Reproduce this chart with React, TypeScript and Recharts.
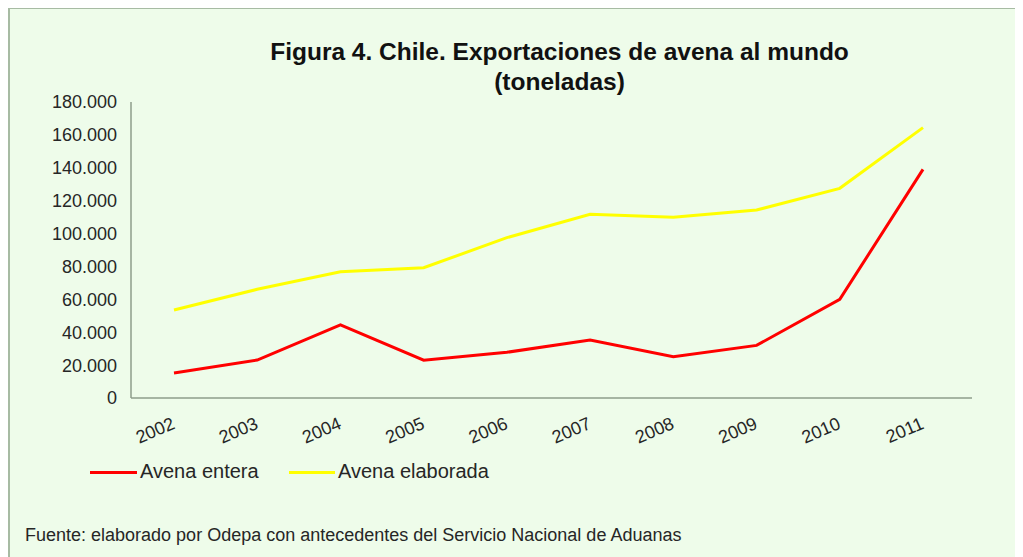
import React from 'react';
import { LineChart, Line, XAxis, YAxis } from 'recharts';

const years = ['2002', '2003', '2004', '2005', '2006', '2007', '2008', '2009', '2010', '2011'];
const avenaEntera = [15200, 23100, 44400, 23000, 27800, 35300, 25100, 32000, 60000, 139000];
const avenaElaborada = [53500, 66100, 76800, 79200, 97500, 111700, 109900, 114300, 127500, 164400];
const yTicks = [0, 20000, 40000, 60000, 80000, 100000, 120000, 140000, 160000, 180000];
const seriesNames = ['Avena entera', 'Avena elaborada'];
const seriesColors = ['#FF0000', '#FFFF00'];
const titleLines = ['Figura 4. Chile. Exportaciones de avena al mundo', '(toneladas)'];
const sourceText = 'Fuente: elaborado por Odepa con antecedentes del Servicio Nacional de Aduanas';

const data = years.map((y, i) => ({ year: y, entera: avenaEntera[i], elaborada: avenaElaborada[i] }));

const fmt = (v: number) => (v === 0 ? '0' : String(v).replace(/\B(?=(\d{3})+(?!\d))/g, '.'));

const FONT = '"Liberation Sans", Arial, sans-serif';
const TEXT = '#262626';

const XTick = (props: any) => {
  const { x, y, payload } = props;
  return (
    <g transform={`translate(${x + 2},${y + 22})`}>
      <text x={0} y={0} textAnchor="end" transform="rotate(-23)" fontSize={18} fontFamily={FONT} fill={TEXT}>
        {payload.value}
      </text>
    </g>
  );
};

export default function App() {
  return (
    <div style={{ position: 'relative', width: 1015, height: 550, marginTop: -1, background: '#EEFCEA', overflow: 'hidden' }}>
      <div style={{ position: 'absolute', left: 0, top: 0, width: 2, height: 550, background: '#A7BBA3' }} />
      <div style={{ position: 'absolute', left: 0, top: 0, width: 1015, height: 2, background: '#A7BBA3' }} />
      <div
        style={{
          position: 'absolute',
          left: 251.5,
          top: 30,
          width: 600,
          textAlign: 'center',
          fontFamily: '"Liberation Sans Narrow", "Arial Narrow", "Liberation Sans", sans-serif',
          fontWeight: 'bold',
          fontSize: 24.5,
          lineHeight: '30px',
          color: '#111',
        }}
      >
        {titleLines.map((t) => (
          <div key={t}>{t}</div>
        ))}
      </div>
      <div style={{ position: 'absolute', left: 0, top: 0 }}>
        <LineChart width={1015} height={549} data={data} margin={{ top: 95, right: 51, left: 43, bottom: 98 }}>
          <XAxis
            dataKey="year"
            height={60}
            padding={{ left: 43, right: 49 }}
            tickLine={false}
            axisLine={{ stroke: '#8E9E8B', strokeWidth: 1.5 }}
            tick={<XTick />}
            interval={0}
          />
          <YAxis
            width={80}
            domain={[0, 180000]}
            ticks={yTicks}
            tickFormatter={fmt}
            tickLine={false}
            tickSize={6}
            tickMargin={8}
            axisLine={{ stroke: '#8E9E8B', strokeWidth: 1.5 }}
            tick={{ fontSize: 18, fontFamily: FONT, fill: TEXT }}
            interval={0}
          />
          <Line type="linear" dataKey="entera" name={seriesNames[0]} stroke={seriesColors[0]} strokeWidth={3} dot={false} isAnimationActive={false} />
          <Line type="linear" dataKey="elaborada" name={seriesNames[1]} stroke={seriesColors[1]} strokeWidth={3} dot={false} isAnimationActive={false} />
        </LineChart>
      </div>
      {/* legend */}
      <div style={{ position: 'absolute', left: 82, top: 464, width: 47, height: 3, background: seriesColors[0] }} />
      <div style={{ position: 'absolute', left: 132, top: 454, fontFamily: FONT, fontSize: 20, lineHeight: '20px', color: TEXT, whiteSpace: 'nowrap' }}>
        {seriesNames[0]}
      </div>
      <div style={{ position: 'absolute', left: 281, top: 464, width: 46, height: 3, background: seriesColors[1] }} />
      <div style={{ position: 'absolute', left: 330, top: 454, fontFamily: FONT, fontSize: 20, lineHeight: '20px', color: TEXT, whiteSpace: 'nowrap' }}>
        {seriesNames[1]}
      </div>
      <div style={{ position: 'absolute', left: 17, top: 519, fontFamily: FONT, fontSize: 18, lineHeight: '18px', color: TEXT, whiteSpace: 'nowrap' }}>
        {sourceText}
      </div>
    </div>
  );
}
